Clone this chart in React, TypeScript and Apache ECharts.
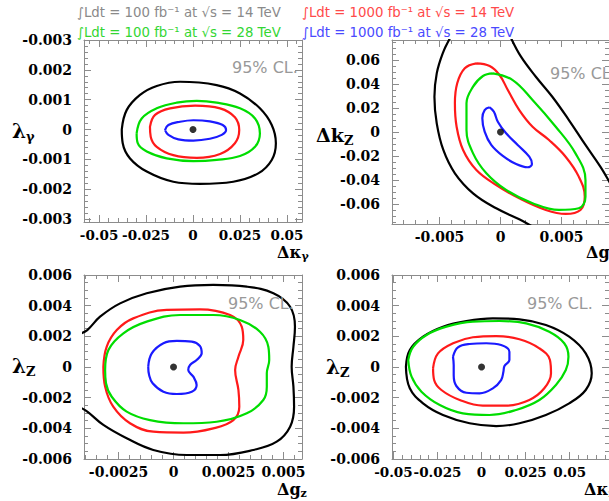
import React, { useEffect, useRef } from 'react';
import * as echarts from 'echarts';

// ---------- legend ----------
const legendTexts = [
  '∫Ldt = 100 fb⁻¹ at √s = 14 TeV',
  '∫Ldt = 1000 fb⁻¹ at √s = 14 TeV',
  '∫Ldt = 100 fb⁻¹ at √s = 28 TeV',
  '∫Ldt = 1000 fb⁻¹ at √s = 28 TeV',
];
const legendColors = ['#8a8a8a', '#ff4a4a', '#33d633', '#4a4aff'];
const curveColors = { black: '#000000', red: '#ff1a1a', green: '#00dd00', blue: '#1a1aff' };

// ---------- panel 1 : Δκγ vs λγ ----------
const p1XTicks = [-0.05, -0.025, 0, 0.025, 0.05];
const p1XLabels = ['-0.05', '-0.025', '0', '0.025', '0.05'];
const p1YTicks = [-0.003, -0.002, -0.001, 0, 0.001, 0.002, 0.003];
const p1YLabels = ['-0.003', '-0.002', '-0.001', '0', '0.001', '0.002', '-0.003'];
const p1Black = [
  [-0.0379, 0.0], [-0.0353, 0.00065], [-0.0282, 0.00116], [-0.0193, 0.00146], [-0.0069, 0.0016],
  [0.0126, 0.00149], [0.025, 0.00121], [0.0356, 0.00071], [0.0419, 0.00015], [0.0441, -0.00046],
  [0.0419, -0.00102], [0.0347, -0.00147], [0.0214, -0.00175], [0.0037, -0.00182], [-0.0105, -0.00175],
  [-0.0246, -0.00141], [-0.0335, -0.00097], [-0.0374, -0.00046],
];
const p1Green = [
  [-0.03, -0.00013], [-0.0273, 0.00037], [-0.0193, 0.00071], [-0.0087, 0.0009], [0.002, 0.00096],
  [0.0126, 0.0009], [0.025, 0.00071], [0.033, 0.00037], [0.0356, -0.00013], [0.033, -0.00058],
  [0.025, -0.00089], [0.0126, -0.00102], [0.0002, -0.00106], [-0.014, -0.00097], [-0.0246, -0.00074],
  [-0.0294, -0.00046],
];
const p1Red = [
  [-0.0229, 0.00009], [-0.0202, 0.00049], [-0.0122, 0.00071], [0.0011, 0.0008], [0.0144, 0.00071],
  [0.0223, 0.00041], [0.0246, -0.00002], [0.0223, -0.00046], [0.0144, -0.00082], [0.002, -0.00095],
  [-0.0105, -0.00086], [-0.0193, -0.00058], [-0.0225, -0.00024],
];
const p1Blue = [
  [-0.0149, -0.00002], [-0.0131, 0.00015], [-0.0069, 0.00026], [0.0002, 0.00031], [0.009, 0.00027],
  [0.0158, 0.00015], [0.0176, -0.00002], [0.0153, -0.00018], [0.009, -0.00031], [0.0002, -0.00037],
  [-0.0078, -0.00033], [-0.0131, -0.00018],
];

// ---------- panel 2 : Δg1Z vs ΔkZ ----------
const p2XTicks = [-0.005, 0, 0.005];
const p2XLabels = ['-0.005', '0', '0.005'];
const p2YTicks = [-0.06, -0.04, -0.02, 0, 0.02, 0.04, 0.06];
const p2YLabels = ['-0.06', '-0.04', '-0.02', '0', '0.02', '0.04', '0.06'];
const p2BlackLeft = [
  [-0.00415, 0.0781], [-0.00474, 0.0656], [-0.00523, 0.0489], [-0.00542, 0.0294], [-0.00523, 0.0072],
  [-0.00469, -0.015], [-0.00374, -0.0344], [-0.00225, -0.0511], [-0.00035, -0.0636], [0.00154, -0.0728],
  [0.00263, -0.0789],
];
const p2BlackRight = [
  [0.00087, 0.0781], [0.00168, 0.0628], [0.0029, 0.0461], [0.00425, 0.0294], [0.00561, 0.01],
  [0.00697, -0.0108], [0.00819, -0.0289], [0.009, -0.0428],
];
const p2Red = [
  [-0.00198, 0.0572], [-0.00089, 0.055], [-0.00008, 0.0475], [0.0006, 0.035], [0.00154, 0.0183],
  [0.00263, 0.0044], [0.00398, -0.0067], [0.00534, -0.0206], [0.00642, -0.0372], [0.00691, -0.0539],
  [0.00656, -0.065], [0.00534, -0.0683], [0.00372, -0.065], [0.00154, -0.0553], [-0.00035, -0.0442],
  [-0.00198, -0.0317], [-0.00307, -0.015], [-0.0036, 0.0044], [-0.00374, 0.0239], [-0.00355, 0.0406],
  [-0.00293, 0.0531],
];
const p2Green = [
  [-0.00063, 0.0489], [0.001, 0.0433], [0.00263, 0.0267], [0.00453, 0.0044], [0.00615, -0.0178],
  [0.00697, -0.04], [0.00697, -0.0539], [0.00642, -0.0636], [0.0048, -0.065], [0.00263, -0.0594],
  [0.00046, -0.0483], [-0.00116, -0.0344], [-0.00225, -0.0178], [-0.00279, 0.0017], [-0.00279, 0.0239],
  [-0.00225, 0.0378], [-0.00144, 0.0467],
];
const p2Blue = [
  [-0.00089, 0.0206], [-0.00054, 0.0169], [-0.00022, 0.0086], [0.00046, -0.0011], [0.00141, -0.0108],
  [0.00236, -0.0206], [0.00258, -0.0267], [0.00222, -0.0294], [0.00128, -0.0267], [0.00019, -0.02],
  [-0.00076, -0.0108], [-0.0013, 0.0003], [-0.00149, 0.0114], [-0.0013, 0.0183],
];

// ---------- panel 3 : Δg1Z vs λZ ----------
const p3XTicks = [-0.0025, 0, 0.0025, 0.005];
const p3XLabels = ['-0.0025', '0', '0.0025', '0.005'];
const p3YTicks = [-0.006, -0.004, -0.002, 0, 0.002, 0.004, 0.006];
const p3YLabels = ['-0.006', '-0.004', '-0.002', '0', '0.002', '0.004', '0.006'];
const p3Black = [
  [-0.0043, 0.00215], [-0.00392, 0.00241], [-0.00334, 0.00328], [-0.00243, 0.00415], [-0.00122, 0.00481],
  [0.0003, 0.00524], [0.00181, 0.00535], [0.00333, 0.00524], [0.00454, 0.00481], [0.0053, 0.00393],
  [0.00552, 0.00263], [0.00545, 0.00132], [0.00537, 0.00002], [0.00545, -0.00128], [0.00548, -0.00259],
  [0.0053, -0.00389], [0.00469, -0.00487], [0.00363, -0.00541], [0.00211, -0.00574], [0.0006, -0.00574],
  [-0.00092, -0.00541], [-0.00213, -0.00465], [-0.00319, -0.00378], [-0.00392, -0.00291], [-0.0043, -0.0026],
];
const p3Red = [
  [-0.00319, 0.00002], [-0.00304, 0.00132], [-0.00258, 0.00241], [-0.00183, 0.00317], [-0.00031, 0.00372],
  [0.0012, 0.00376], [0.00257, 0.00339], [0.0031, 0.00263], [0.00317, 0.00176], [0.00295, 0.00067],
  [0.0028, -0.0002], [0.00295, -0.0015], [0.00299, -0.00259], [0.00272, -0.00346], [0.00181, -0.004],
  [0.00045, -0.00428], [-0.00092, -0.00422], [-0.00198, -0.00367], [-0.00274, -0.00259], [-0.00311, -0.00128],
];
const p3Green = [
  [-0.00311, -0.0002], [-0.00296, 0.00111], [-0.00228, 0.0022], [-0.00122, 0.00296], [0.0003, 0.00339],
  [0.00181, 0.00339], [0.00302, 0.00307], [0.00393, 0.0023], [0.00431, 0.00132], [0.00435, 0.00046],
  [0.00424, -0.00041], [0.00424, -0.00128], [0.00408, -0.00215], [0.00333, -0.00302], [0.00196, -0.00357],
  [0.00045, -0.00367], [-0.00107, -0.00346], [-0.00213, -0.00291], [-0.00281, -0.00194], [-0.00307, -0.00106],
];
const p3Blue = [
  [-0.00115, 0.00002], [-0.00099, 0.00089], [-0.00046, 0.00155], [0.00015, 0.0017], [0.00083, 0.00165],
  [0.0012, 0.00137], [0.00128, 0.00089], [0.00105, 0.00046], [0.00075, 0.00013], [0.00067, -0.0002],
  [0.0009, -0.00063], [0.00105, -0.00117], [0.00083, -0.00161], [0.00015, -0.00176], [-0.00046, -0.00161],
  [-0.00095, -0.00106], [-0.00111, -0.00052],
];

// ---------- panel 4 : ΔκZ vs λZ ----------
const p4XTicks = [-0.05, -0.025, 0, 0.025, 0.05];
const p4XLabels = ['-0.05', '-0.025', '0', '0.025', '0.05'];
const p4YTicks = [-0.006, -0.004, -0.002, 0, 0.002, 0.004, 0.006];
const p4YLabels = ['-0.006', '-0.004', '-0.002', '0', '0.002', '0.004', '0.006'];
const p4Black = [
  [-0.0429, 0.00002], [-0.0407, 0.00111], [-0.0332, 0.00198], [-0.0219, 0.00263], [-0.0086, 0.003],
  [0.0064, 0.00317], [0.0215, 0.00311], [0.0365, 0.00274], [0.0497, 0.00198], [0.0591, 0.00089],
  [0.0625, -0.00041], [0.0591, -0.0015], [0.0497, -0.00237], [0.0365, -0.00313], [0.0215, -0.00367],
  [0.0083, -0.00385], [-0.0068, -0.00367], [-0.0219, -0.00313], [-0.0332, -0.00237], [-0.0407, -0.00139],
];
const p4Green = [
  [-0.0416, 0.00046], [-0.0388, 0.00132], [-0.0312, 0.00209], [-0.0199, 0.00263], [-0.0049, 0.00296],
  [0.0102, 0.003], [0.0253, 0.00285], [0.0384, 0.0023], [0.0469, 0.00155], [0.0493, 0.00067],
  [0.0478, -0.0002], [0.0422, -0.00117], [0.0328, -0.00215], [0.0196, -0.0028], [0.0045, -0.00313],
  [-0.0106, -0.00302], [-0.0237, -0.00248], [-0.0341, -0.00161], [-0.0397, -0.00063],
];
const p4Red = [
  [-0.0275, -0.00008], [-0.0247, 0.00089], [-0.0162, 0.00155], [-0.0049, 0.00194], [0.0083, 0.00202],
  [0.0215, 0.00181], [0.0328, 0.00122], [0.0388, 0.00046], [0.0394, -0.00041], [0.0356, -0.00139],
  [0.0271, -0.00215], [0.014, -0.00252], [0.0007, -0.00252], [-0.0124, -0.00215], [-0.0228, -0.0015],
  [-0.0269, -0.00085],
];
const p4Blue = [
  [-0.0162, 0.00067], [-0.0134, 0.00128], [-0.0068, 0.0015], [0.0027, 0.00155], [0.0111, 0.00143],
  [0.0158, 0.001], [0.0158, 0.00046], [0.013, 0.00007], [0.0124, -0.00031], [0.0111, -0.00085],
  [0.0064, -0.00139], [-0.0011, -0.00172], [-0.0086, -0.00168], [-0.0143, -0.00124], [-0.0158, -0.00052],
  [-0.0158, 0.00013],
];

const bestFit = [[0, 0]];

// ---------- layout ----------
const FRAME = '#8c8c8c';
const SERIF = 'DejaVu Serif';
const SANS = 'DejaVu Sans';

const panels = [
  { grid: { left: 84, top: 40, width: 218, height: 182 }, x: [-0.058, 0.058], y: [-0.0031, 0.003],
    xt: p1XTicks, xl: p1XLabels, yt: p1YTicks, yl: p1YLabels, xm: 0.005, ym: 0.0002, xs: 13.5,
    curves: [[p1Black, 'black', true], [p1Green, 'green', true], [p1Red, 'red', true], [p1Blue, 'blue', true]] },
  { grid: { left: 392, top: 40, width: 218, height: 184 }, x: [-0.0089, 0.0089], y: [-0.0767, 0.0767],
    xt: p2XTicks, xl: p2XLabels, yt: p2YTicks, yl: p2YLabels, xm: 0.001, ym: 0.005, xs: 14,
    curves: [[p2BlackLeft, 'black', false], [p2BlackRight, 'black', false], [p2Red, 'red', true], [p2Green, 'green', true], [p2Blue, 'blue', true]] },
  { grid: { left: 84, top: 275, width: 218, height: 184 }, x: [-0.00407, 0.00584], y: [-0.006, 0.006],
    xt: p3XTicks, xl: p3XLabels, yt: p3YTicks, yl: p3YLabels, xm: 0.0005, ym: 0.0005, xs: 14,
    curves: [[p3Black, 'black', false], [p3Red, 'red', true], [p3Green, 'green', true], [p3Blue, 'blue', true]] },
  { grid: { left: 392, top: 275, width: 218, height: 184 }, x: [-0.0508, 0.0723], y: [-0.006, 0.006],
    xt: p4XTicks, xl: p4XLabels, yt: p4YTicks, yl: p4YLabels, xm: 0.005, ym: 0.0005, xs: 13.5,
    curves: [[p4Black, 'black', true], [p4Green, 'green', true], [p4Red, 'red', true], [p4Blue, 'blue', true]] },
];

function minorValues(min: number, max: number, step: number) {
  const out: number[] = [];
  const start = Math.ceil(min / step - 1e-9);
  for (let k = start; k * step <= max + 1e-12; k++) out.push(+(k * step).toFixed(10));
  return out;
}

function makeFmt(majors: number[], labels: string[]) {
  return (v: number) => {
    let best = 0;
    for (let i = 1; i < majors.length; i++) if (Math.abs(majors[i] - v) < Math.abs(majors[best] - v)) best = i;
    return labels[best];
  };
}

function labelStyle(dim: 'x' | 'y', size: number, majors: number[], labels: string[]) {
  return { color: '#000', fontFamily: SERIF, fontWeight: 'bold', fontSize: size,
    margin: dim === 'x' ? 6 : 12, formatter: makeFmt(majors, labels) };
}

// frame axes of one panel: labelled side with major + minor ticks, opposite side with major + minor ticks
function buildAxes(dim: 'x' | 'y', gridIndex: number, range: number[], majors: number[], labels: string[],
  minorStep: number, labelSize: number) {
  const minors = minorValues(range[0], range[1], minorStep);
  const sides = dim === 'x' ? ['bottom', 'top'] : ['left', 'right'];
  const base = { type: 'value', gridIndex, min: range[0], max: range[1], splitLine: { show: false } };
  // x axes: only every other label here, the rest go on an overlay grid (avoids auto-hiding of packed labels)
  const shown = dim === 'x' ? majors.filter((_, i) => i % 2 === 0) : majors;
  const tickStyle = { color: FRAME, width: 1 };
  return [
    { ...base, position: sides[0],
      axisLine: { show: true, onZero: false, lineStyle: { color: FRAME, width: 1 } },
      axisTick: { show: true, inside: true, length: 7, customValues: majors, lineStyle: tickStyle },
      axisLabel: { show: true, customValues: shown, ...labelStyle(dim, labelSize, majors, labels) } },
    { ...base, position: sides[0], axisLine: { show: false, onZero: false },
      axisTick: { show: true, inside: true, length: 4, customValues: minors, lineStyle: tickStyle },
      axisLabel: { show: false } },
    { ...base, position: sides[1],
      axisLine: { show: true, onZero: false, lineStyle: { color: FRAME, width: 1 } },
      axisTick: { show: true, inside: true, length: 7, customValues: majors, lineStyle: tickStyle },
      axisLabel: { show: false } },
    { ...base, position: sides[1], axisLine: { show: false, onZero: false },
      axisTick: { show: true, inside: true, length: 4, customValues: minors, lineStyle: tickStyle },
      axisLabel: { show: false } },
  ];
}

function txt(x: number, y: number, text: string, size: number, color: string, family: string, bold: boolean) {
  return {
    type: 'text', x, y, silent: true, z: 100,
    style: { text, fill: color, fontSize: size, fontFamily: family, fontWeight: bold ? 'bold' : 'normal',
      verticalAlign: 'middle', textVerticalAlign: 'middle', align: 'left', textAlign: 'left' },
  };
}

// symbol with a subscript, as one rich text
function subTitle(x: number, y: number, main: string, sub: string, size: number, subSize: number) {
  return {
    type: 'text', x, y, silent: true, z: 100,
    style: {
      text: `{a|${main}}{b|${sub}}`,
      verticalAlign: 'middle', textVerticalAlign: 'middle', align: 'left', textAlign: 'left',
      rich: {
        a: { fontSize: size, fontFamily: SERIF, fontWeight: 'bold', fill: '#000', color: '#000',
          lineHeight: size + 2, verticalAlign: 'top' },
        b: { fontSize: subSize, fontFamily: SERIF, fontWeight: 'bold', fill: '#000', color: '#000',
          lineHeight: 4, verticalAlign: 'bottom' },
      },
    },
  };
}

export default function App() {
  const ref = useRef<HTMLDivElement>(null);
  useEffect(() => {
    if (!ref.current) return;
    const chart = echarts.init(ref.current, null, { renderer: 'svg' });
    const xAxis: any[] = [];
    const yAxis: any[] = [];
    const series: any[] = [];
    const grids: any[] = panels.map((p) => ({ ...p.grid, containLabel: false }));

    panels.forEach((p, i) => {
      xAxis.push(...buildAxes('x', i, p.x, p.xt, p.xl, p.xm, p.xs));
      yAxis.push(...buildAxes('y', i, p.y, p.yt, p.yl, p.ym, 14));
      p.curves.forEach(([pts, col, closed]: any) => {
        const data = closed ? [...pts, pts[0]] : pts;
        series.push({
          type: 'line', xAxisIndex: 4 * i, yAxisIndex: 4 * i, data, showSymbol: false, symbol: 'none',
          smooth: 0.4, clip: true, silent: true,
          lineStyle: { color: (curveColors as any)[col], width: 2.2 },
        });
      });
      series.push({
        type: 'scatter', xAxisIndex: 4 * i, yAxisIndex: 4 * i, data: bestFit, symbolSize: 7,
        itemStyle: { color: '#000' }, silent: true, z: 10,
      });
    });

    // overlay grids carrying the remaining x labels (odd positions)
    panels.forEach((p, i) => {
      const gi = panels.length + i;
      grids.push({ ...p.grid, containLabel: false });
      const odd = p.xt.filter((_, k) => k % 2 === 1);
      xAxis.push({
        type: 'value', gridIndex: gi, min: p.x[0], max: p.x[1], position: 'bottom',
        splitLine: { show: false }, axisLine: { show: false, onZero: false }, axisTick: { show: false },
        axisLabel: { show: odd.length > 0, customValues: odd, ...labelStyle('x', p.xs, p.xt, p.xl) },
      });
      yAxis.push({
        type: 'value', gridIndex: gi, min: p.y[0], max: p.y[1], show: false,
        splitLine: { show: false }, axisLine: { show: false, onZero: false },
      });
    });

    const graphic: any[] = [
      txt(77, 12, legendTexts[0], 13.3, legendColors[0], SANS, false),
      txt(302, 12, legendTexts[1], 13.3, legendColors[1], SANS, false),
      txt(77, 32, legendTexts[2], 13.3, legendColors[2], SANS, false),
      txt(302, 32, legendTexts[3], 13.3, legendColors[3], SANS, false),
      txt(232, 67, '95% CL.', 16, '#999', SANS, false),
      txt(550, 73, '95% CL.', 16, '#999', SANS, false),
      txt(228, 303, '95% CL.', 16, '#999', SANS, false),
      txt(527, 303, '95% CL.', 16, '#999', SANS, false),
      // y titles
      subTitle(12, 132, 'λ', 'γ', 20, 13),
      subTitle(316, 136, 'Δk', 'Z', 19, 13),
      subTitle(12, 367, 'λ', 'Z', 20, 13),
      subTitle(326, 368, 'λ', 'Z', 20, 13),
      // x titles
      subTitle(277, 253, 'Δκ', 'γ', 16, 11),
      subTitle(586, 253, 'Δg', 'z', 16, 11),
      subTitle(277, 490, 'Δg', 'z', 16, 11),
      subTitle(584, 490, 'Δκ', 'z', 16, 11),
    ];

    chart.setOption({
      animation: false,
      backgroundColor: '#fff',
      grid: grids,
      xAxis,
      yAxis,
      series,
      graphic,
    });
    return () => chart.dispose();
  }, []);
  return (
    <div
      ref={ref}
      style={{ position: 'absolute', left: 0, top: 0, width: 609, height: 501, background: '#fff' }}
    />
  );
}
